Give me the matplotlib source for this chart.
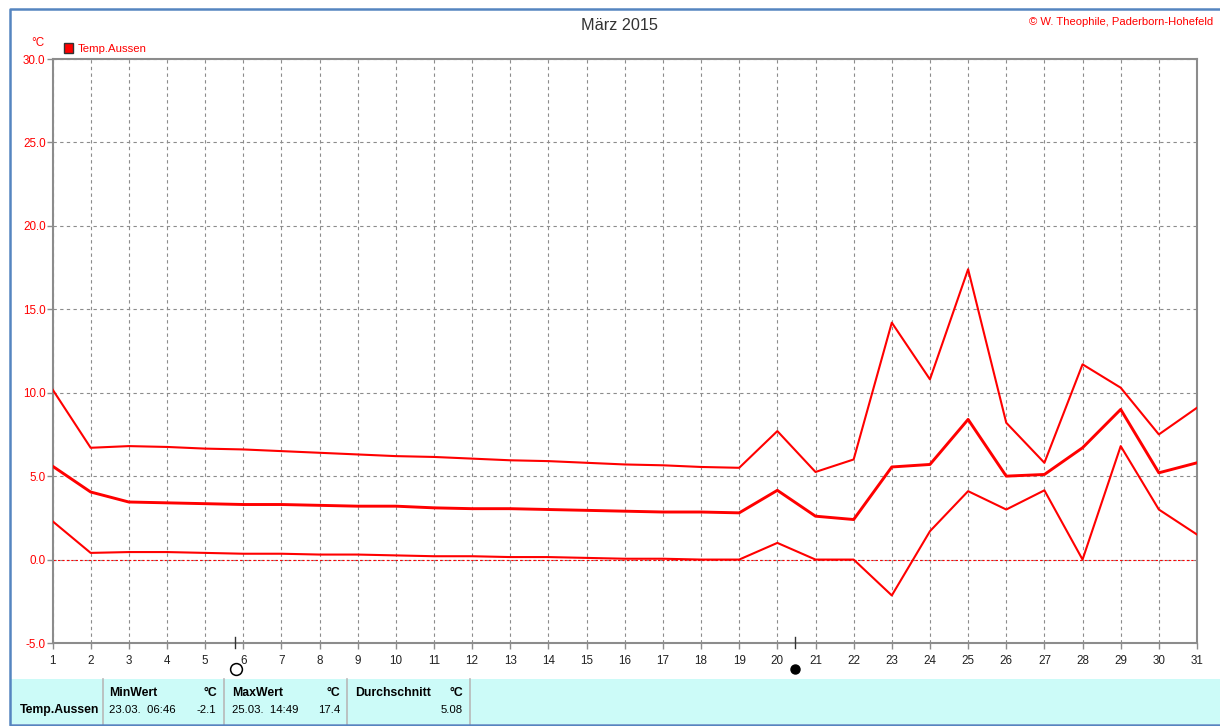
import matplotlib
matplotlib.use('Agg')
import matplotlib.pyplot as plt
from matplotlib.patches import Rectangle
from matplotlib.lines import Line2D

W, H = 1220, 726
RED = '#ff0000'
GRID = '#8c8c8c'
BAND = '#ccfbf8'
FRAME = '#5585c0'

days = list(range(1, 32))
temp_max = [10.2, 6.7, 6.8, 6.75, 6.65, 6.6, 6.5, 6.4, 6.3, 6.2, 6.15, 6.05, 5.95, 5.9, 5.8, 5.7,
            5.65, 5.55, 5.5, 7.7, 5.25, 6.0, 14.2, 10.8, 17.4, 8.2, 5.8, 11.7, 10.3, 7.5, 9.1]
temp_mean = [5.6, 4.05, 3.45, 3.4, 3.35, 3.3, 3.3, 3.25, 3.2, 3.2, 3.1, 3.05, 3.05, 3.0, 2.95, 2.9,
             2.85, 2.85, 2.8, 4.15, 2.6, 2.4, 5.55, 5.7, 8.4, 5.0, 5.1, 6.7, 9.0, 5.2, 5.8]
temp_min = [2.3, 0.4, 0.45, 0.45, 0.4, 0.35, 0.35, 0.3, 0.3, 0.25, 0.2, 0.2, 0.15, 0.15, 0.1, 0.05,
            0.05, 0.0, 0.0, 1.0, 0.0, 0.0, -2.15, 1.7, 4.1, 3.0, 4.15, 0.0, 6.8, 3.0, 1.5]
y_ticks = [-5, 0, 5, 10, 15, 20, 25, 30]
moon_days = [5.78, 20.47]

plt.rcParams['font.family'] = ['Liberation Sans', 'DejaVu Sans']


def fx(px):
    return px / W


def fy(py):
    return 1 - py / H


def label(px, py, text, size=8.2, color='black', ha='left', weight='normal'):
    return fig.text(fx(px), fy(py), text, fontsize=size, color=color, ha=ha, va='center', fontweight=weight)


def bold(px, py, text, ha='left'):
    return label(px, py, text, size=8.8, ha=ha, weight='bold')


fig = plt.figure(figsize=(W / 100, H / 100), dpi=100, facecolor='white')

# plot area in pixel positions of the reference
ax = fig.add_axes([fx(52.5), fy(643), (1197 - 52.5) / W, (643 - 59) / H])
ax.set_xlim(1, 31)
ax.set_ylim(-5, 30)
ax.set_xticks(days)
ax.set_yticks(y_ticks)
ax.set_yticklabels([f'{v:.1f}' for v in y_ticks], color=RED, fontsize=8.4)
ax.set_xticklabels([str(d) for d in days], fontsize=8.4, color='#222222')
ax.tick_params(axis='x', length=4, width=1, color=GRID, pad=5)
ax.tick_params(axis='y', length=4, width=1, color=GRID, pad=1)
ax.grid(True, color=GRID, linestyle=(0, (3, 3)), linewidth=0.8)
ax.set_axisbelow(True)
for spine in ax.spines.values():
    spine.set_color(GRID)
    spine.set_linewidth(1.5)

ax.axhline(0, color=RED, linestyle=(0, (2, 2)), linewidth=0.8, zorder=2)
ax.plot(days, temp_max, color=RED, linewidth=1.5, zorder=3)
ax.plot(days, temp_mean, color=RED, linewidth=2.1, zorder=3)
ax.plot(days, temp_min, color=RED, linewidth=1.5, zorder=3)

# moon phase ticks below the axis
for d in moon_days:
    ax.plot([d, d], [-5.3, -4.65], color='#333333', linewidth=1, clip_on=False, zorder=4)

fig.add_artist(Line2D([fx(236)], [fy(669)], marker='o', markersize=8.5, markerfacecolor='white',
                      markeredgecolor='black', markeredgewidth=1.1, linestyle='none'))
fig.add_artist(Line2D([fx(794.5)], [fy(669)], marker='o', markersize=6.5, markerfacecolor='black',
                      markeredgecolor='black', linestyle='none'))

# titles and legend
label(619.5, 25, 'März 2015', size=11.7, ha='center', color='#333333')
label(1213, 22, '© W. Theophile, Paderborn-Hohefeld', size=8.1, color=RED, ha='right')
label(31, 43, '°C', size=8.4, color=RED)
fig.add_artist(Rectangle((fx(63.5), fy(53)), 9.5 / W, 9.5 / H, facecolor=RED, edgecolor='#333333', linewidth=1))
label(78, 48.5, 'Temp.Aussen', size=8.2, color=RED)

# statistics band at the bottom
fig.add_artist(Rectangle((fx(11), fy(724)), (W - 11) / W, 45 / H, facecolor=BAND, edgecolor='none'))
for px in [103, 224, 347, 470]:
    fig.add_artist(Line2D([fx(px), fx(px)], [fy(679), fy(724)], color='#b8b8b8', linewidth=1.2))

bold(20, 710, 'Temp.Aussen')
bold(109, 693, 'MinWert')
bold(217, 693, '°C', ha='right')
label(109, 710, '23.03.  06:46')
label(216, 710, '-2.1', ha='right')
bold(232, 693, 'MaxWert')
bold(340, 693, '°C', ha='right')
label(232, 710, '25.03.  14:49')
label(340, 710, '17.4', ha='right')
bold(355, 693, 'Durchschnitt')
bold(463, 693, '°C', ha='right')
label(463, 710, '5.08', ha='right')

# window frame, open on the right side
frame_x = [fx(W), fx(10), fx(10), fx(W)]
frame_y = [fy(9), fy(9), fy(725), fy(725)]
fig.add_artist(Line2D(frame_x, frame_y, color=FRAME, linewidth=1.8))

fig.savefig('out.png', dpi=100)
